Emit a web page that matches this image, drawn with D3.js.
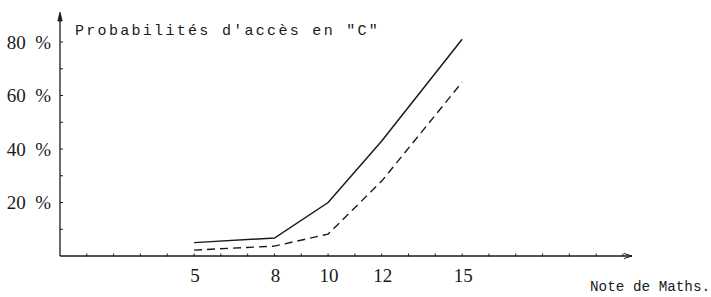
<!DOCTYPE html>
<html>
<head>
<meta charset="utf-8">
<script src="https://cdn.jsdelivr.net/npm/d3@7"></script>
<style>
  body { margin: 0; background: #fff; }
  svg { display: block; }
  .mono { font-family: "Liberation Mono", "DejaVu Sans Mono", monospace; }
  .serif { font-family: "Liberation Serif", "DejaVu Serif", serif; }
</style>
</head>
<body>
<svg id="chart" width="711" height="297"></svg>
<script>
// notes de maths (x) and access probabilities in % (y)
const notes = [5, 8, 10, 12, 15]
const probSolid = [5, 6.7, 20, 43, 81]
const probDashed = [2.2, 3.7, 8.2, 28, 65]
const yTickLabels = [20, 40, 60, 80]
const xTickLabels = [5, 8, 10, 12, 15]

const svg = d3.select('#chart')
const ink = '#1a1a1a'

const x = d3.scaleLinear().domain([0, 21]).range([60, 623])
const y = d3.scaleLinear().domain([0, 80]).range([256, 42])

// ── axes ──
svg.append('line')
  .attr('x1', x(0)).attr('x2', 632)
  .attr('y1', y(0)).attr('y2', y(0))
  .attr('stroke', ink).attr('stroke-width', 1.3)
svg.append('path')
  .attr('d', `M624,${y(0) - 2.5} L632,${y(0)} L624,${y(0) + 2.5}`)
  .attr('fill', 'none').attr('stroke', ink).attr('stroke-width', 1)

svg.append('line')
  .attr('x1', x(0)).attr('x2', x(0))
  .attr('y1', y(0)).attr('y2', 14)
  .attr('stroke', ink).attr('stroke-width', 1.3)
svg.append('path')
  .attr('d', `M${x(0) - 2.2},21 L${x(0)},12 L${x(0) + 2.2},21 Z`)
  .attr('fill', ink).attr('stroke', ink).attr('stroke-width', 0.8)

// small ticks every unit / every 10 %
svg.append('g').selectAll('line')
  .data(d3.range(1, 22))
  .join('line')
  .attr('x1', d => x(d)).attr('x2', d => x(d))
  .attr('y1', y(0) - 2.5).attr('y2', y(0) + 0.5)
  .attr('stroke', ink).attr('stroke-width', 1)

svg.append('g').selectAll('line')
  .data(d3.range(10, 81, 10))
  .join('line')
  .attr('x1', x(0)).attr('x2', x(0) + 3)
  .attr('y1', d => y(d)).attr('y2', d => y(d))
  .attr('stroke', ink).attr('stroke-width', 1)

// tick labels
svg.append('g').selectAll('text')
  .data(yTickLabels)
  .join('text')
  .attr('class', 'serif')
  .attr('x', 51).attr('y', d => y(d) + 6.5)
  .attr('text-anchor', 'end')
  .attr('font-size', 19)
  .attr('fill', ink)
  .text(d => d + '\u00a0\u00a0%')

svg.append('g').selectAll('text')
  .data(xTickLabels)
  .join('text')
  .attr('class', 'serif')
  .attr('x', d => x(d) + 1).attr('y', 282)
  .attr('text-anchor', 'middle')
  .attr('font-size', 19)
  .attr('fill', ink)
  .text(d => d)

// axis titles
svg.append('text')
  .attr('class', 'mono')
  .attr('x', 75).attr('y', 35)
  .attr('font-size', 15)
  .attr('letter-spacing', 2.3)
  .attr('fill', ink)
  .text('Probabilités d\'accès en "C"')

svg.append('text')
  .attr('class', 'mono')
  .attr('x', 590).attr('y', 291)
  .attr('font-size', 14.3)
  .attr('fill', ink)
  .text('Note de Maths.')

// ── curves ──
const line = d3.line()
  .x(d => x(d[0]))
  .y(d => y(d[1]))

svg.append('path')
  .datum(d3.zip(notes, probSolid))
  .attr('d', line)
  .attr('fill', 'none')
  .attr('stroke', ink)
  .attr('stroke-width', 1.5)

svg.append('path')
  .datum(d3.zip(notes, probDashed))
  .attr('d', line)
  .attr('fill', 'none')
  .attr('stroke', ink)
  .attr('stroke-width', 1.4)
  .attr('stroke-dasharray', '8,5')
</script>
</body>
</html>
